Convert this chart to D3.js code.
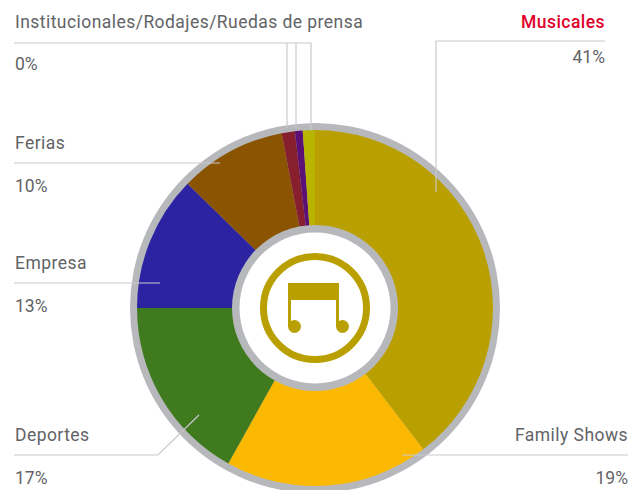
<!DOCTYPE html>
<html><head><meta charset="utf-8">
<script src="https://cdn.jsdelivr.net/npm/d3@7"></script>
<style>html,body{margin:0;padding:0;background:#fff}svg{display:block}</style>
</head><body><svg id="c" width="634" height="490"></svg>
<script>
const sliceNames = ["Musicales","Family Shows","Deportes","Empresa","Ferias","Institucionales","Rodajes","Ruedas de prensa"];
const sliceValues = [39.6,18.5,16.9,12.3,9.7,1.2,0.7,1.1];
const sliceColors = ["#b9a000","#fbb800","#3f7a1e","#2c23a3","#8a5400","#881f2e","#5a1075","#b8b400"];
const labelNames = ["Institucionales/Rodajes/Ruedas de prensa","Ferias","Empresa","Deportes","Family Shows","Musicales"];
const labelPercents = ["0%","10%","13%","17%","19%","41%"];

const svg = d3.select("#c");
const cx = 315, cy = 308;
const font = "Roboto, sans-serif", grey = "#626366", ringCol = "#b7b8bb", lineCol = "#c9c9cb";

svg.append("circle").attr("cx",cx).attr("cy",cy).attr("r",185).attr("fill",ringCol);
const pie = d3.pie().sort(null)(sliceValues);
const arc = d3.arc().innerRadius(0).outerRadius(178);
const g = svg.append("g").attr("transform",`translate(${cx},${cy})`);
g.selectAll("path").data(pie).join("path").attr("d",arc).attr("fill",(d,i)=>sliceColors[i]);

const leaders = [
  "M14,43H311V130","M287,43V128","M296,43V128",
  "M14,163H220","M14,283H160","M14,455H158L199,415","M628,455H402","M605,41H436V192"
];
svg.append("g").selectAll("path").data(leaders).join("path").attr("d",d=>d)
  .attr("fill","none").attr("stroke",lineCol).attr("stroke-width",1.2);

svg.append("circle").attr("cx",cx).attr("cy",cy).attr("r",83).attr("fill",ringCol);
svg.append("circle").attr("cx",cx).attr("cy",cy).attr("r",75.5).attr("fill","#fff");

const icon = sliceColors[0];
svg.append("circle").attr("cx",cx).attr("cy",cy).attr("r",51.5).attr("fill","none").attr("stroke",icon).attr("stroke-width",7);
svg.append("rect").attr("x",288).attr("y",283).attr("width",51).attr("height",17).attr("fill",icon);
svg.append("rect").attr("x",288).attr("y",283).attr("width",3).attr("height",43).attr("fill",icon);
svg.append("rect").attr("x",336).attr("y",283).attr("width",3).attr("height",43).attr("fill",icon);
svg.append("circle").attr("cx",294.5).attr("cy",326.5).attr("r",6.5).attr("fill",icon);
svg.append("circle").attr("cx",342.5).attr("cy",326.5).attr("r",6.5).attr("fill",icon);

const nameLayout = [[15,28,"start"],[15,149,"start"],[15,269,"start"],[15,441,"start"],[628,441,"end"],[605,28,"end"]];
const pctLayout = [[15,70,"start"],[15,192,"start"],[15,312,"start"],[15,484,"start"],[628,484,"end"],[605,63,"end"]];
svg.append("g").selectAll("text").data(labelNames).join("text")
  .attr("x",(d,i)=>nameLayout[i][0]).attr("y",(d,i)=>nameLayout[i][1]).attr("text-anchor",(d,i)=>nameLayout[i][2])
  .attr("font-family",font).attr("font-size",17.5).attr("letter-spacing",0.45)
  .attr("font-weight",(d,i)=>i===5?500:400)
  .attr("fill",(d,i)=>i===5?"#e0002b":grey).text(d=>d);
svg.append("g").selectAll("text").data(labelPercents).join("text")
  .attr("x",(d,i)=>pctLayout[i][0]).attr("y",(d,i)=>pctLayout[i][1]).attr("text-anchor",(d,i)=>pctLayout[i][2])
  .attr("font-family",font).attr("font-size",17.5).attr("fill",grey).text(d=>d);
</script></body></html>
